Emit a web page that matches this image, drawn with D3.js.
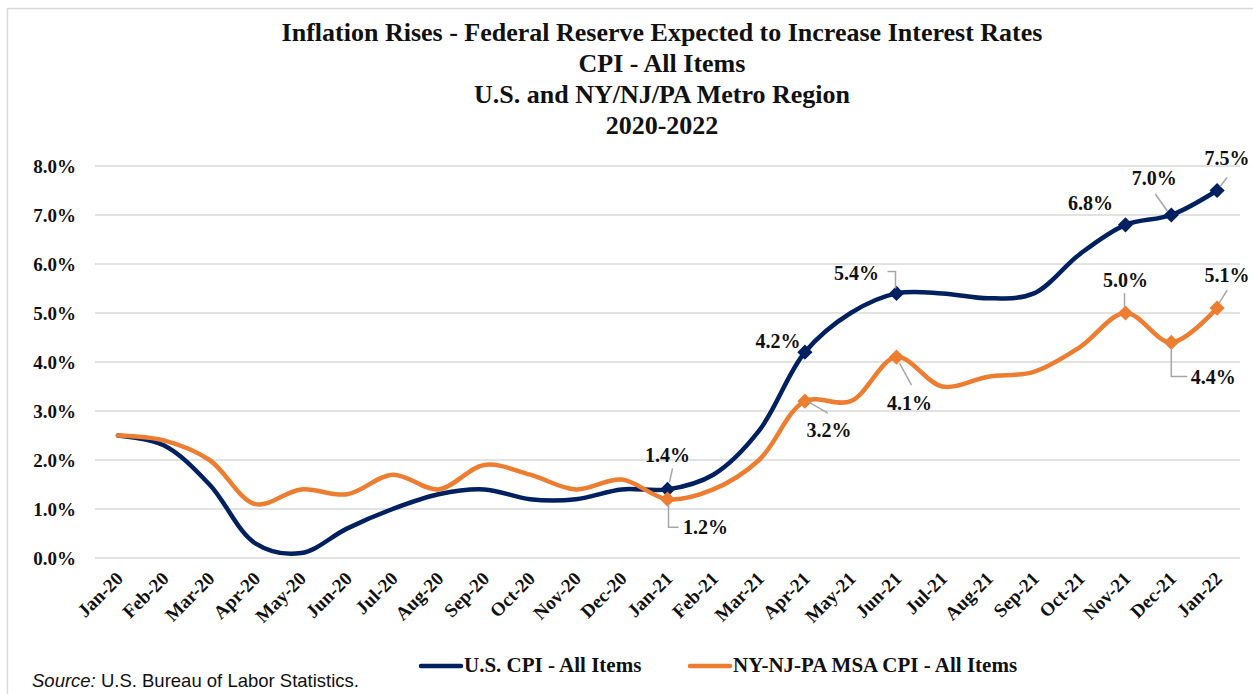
<!DOCTYPE html>
<html>
<head>
<meta charset="utf-8">
<script src="https://cdn.jsdelivr.net/npm/d3@7"></script>
<style>
  html, body { margin: 0; padding: 0; background: #fff; overflow: hidden; }
  svg { display: block; }
  .serif { font-family: "Liberation Serif", "DejaVu Serif", serif; }
</style>
</head>
<body>
<svg></svg>
<script>
const width = 1253, height = 694;
const margin = { top: 166, right: 13, bottom: 136, left: 95 };
const innerWidth = width - margin.left - margin.right;
const innerHeight = height - margin.top - margin.bottom;

// data
const months = ["Jan-20", "Feb-20", "Mar-20", "Apr-20", "May-20", "Jun-20", "Jul-20", "Aug-20",
  "Sep-20", "Oct-20", "Nov-20", "Dec-20", "Jan-21", "Feb-21", "Mar-21", "Apr-21", "May-21",
  "Jun-21", "Jul-21", "Aug-21", "Sep-21", "Oct-21", "Nov-21", "Dec-21", "Jan-22"];
const usCpi = [2.5, 2.3, 1.5, 0.3, 0.1, 0.6, 1.0, 1.3, 1.4, 1.2, 1.2, 1.4, 1.4, 1.7, 2.6, 4.2,
  5.0, 5.4, 5.4, 5.3, 5.4, 6.2, 6.8, 7.0, 7.5];
const nyCpi = [2.5, 2.4, 2.0, 1.1, 1.4, 1.3, 1.7, 1.4, 1.9, 1.7, 1.4, 1.6, 1.2, 1.4, 2.0, 3.2,
  3.2, 4.1, 3.5, 3.7, 3.8, 4.3, 5.0, 4.4, 5.1];
const yTicks = [0, 1, 2, 3, 4, 5, 6, 7, 8];
const markedMonths = ["Jan-21", "Apr-21", "Jun-21", "Nov-21", "Dec-21", "Jan-22"];
const titleLines = [
  "Inflation Rises - Federal Reserve Expected to Increase Interest Rates",
  "CPI - All Items",
  "U.S. and NY/NJ/PA Metro Region",
  "2020-2022"
];
const seriesNames = ["U.S. CPI - All Items", "NY-NJ-PA MSA CPI - All Items"];

const colors = ["#002060", "#ED7D31"];

// label placement (offset from the point), leader line points relative to the point
const labelLayout = [
  [ { dx: 0, dy: -34, lead: [[5, -21], [2, -7]] },
    { dx: -27, dy: -11 },
    { dx: -40, dy: -20, lead: [[-9, -22], [-1, -22], [-1, -5]] },
    { dx: -35, dy: -22 },
    { dx: -17, dy: -37, lead: [[-16, -21], [-4, -4]] },
    { dx: 10, dy: -33, lead: [[10, -13], [3, -4]] } ],
  [ { dx: 38, dy: 28, lead: [[1, 5], [1, 28], [11, 28]] },
    { dx: 24, dy: 29, lead: [[4, 1], [23, 12]] },
    { dx: 13, dy: 46, lead: [[3, 6], [15, 28]] },
    { dx: 0, dy: -33, lead: [[-1, -20], [-1, -5]] },
    { dx: 42, dy: 35, lead: [[0, 5], [0, 34], [16, 34]] },
    { dx: 10, dy: -33, lead: [[10, -18], [2, -5]] } ]
];

const svg = d3.select("svg")
  .attr("width", width)
  .attr("height", height);

// outer chart border
svg.append("path")
  .attr("d", `M7.5,${height}V8.5H${width}`)
  .attr("fill", "none")
  .attr("stroke", "#d9d9d9")
  .attr("stroke-width", 1.5);

// title
svg.append("g").selectAll("text")
  .data(titleLines)
  .enter().append("text")
  .attr("class", "serif")
  .attr("x", 662)
  .attr("y", (d, i) => 41 + i * 31)
  .attr("text-anchor", "middle")
  .attr("font-size", 26)
  .attr("font-weight", "bold")
  .attr("fill", "#111")
  .text(d => d);

const g = svg.append("g")
  .attr("transform", `translate(${margin.left},${margin.top})`);

const xScale = d3.scalePoint().domain(months).range([0, innerWidth]).padding(0.5);
const yScale = d3.scaleLinear().domain([0, 8]).range([innerHeight, 0]);

// grid
g.append("g").selectAll("line")
  .data(yTicks)
  .enter().append("line")
  .attr("x1", 0)
  .attr("x2", innerWidth)
  .attr("y1", d => yScale(d))
  .attr("y2", d => yScale(d))
  .attr("stroke", "#d9d9d9")
  .attr("stroke-width", 1.5);

// y axis
const yAxis = d3.axisLeft(yScale).tickValues(yTicks).tickSize(0).tickPadding(19)
  .tickFormat(d => d.toFixed(1) + "%");
g.append("g")
  .call(yAxis)
  .call(s => s.select(".domain").remove())
  .call(s => s.selectAll("text")
    .attr("font-family", "Liberation Serif, serif")
    .attr("font-size", 19)
    .attr("font-weight", "bold")
    .attr("fill", "#111"));

// x axis
const xAxis = d3.axisBottom(xScale).tickSize(0);
g.append("g")
  .attr("transform", `translate(0,${innerHeight})`)
  .call(xAxis)
  .call(s => s.select(".domain").remove())
  .call(s => s.selectAll("text")
    .attr("font-family", "Liberation Serif, serif")
    .attr("font-size", 19)
    .attr("font-weight", "bold")
    .attr("fill", "#111")
    .attr("text-anchor", "end")
    .attr("x", 0).attr("y", 0).attr("dy", "0.35em")
    .attr("transform", "translate(1,17) rotate(-45)"));

// lines
const line = d3.line()
  .x((d, i) => xScale(months[i]))
  .y(d => yScale(d))
  .curve(d3.curveCatmullRom.alpha(0.5));

[usCpi, nyCpi].forEach((series, si) => {
  g.append("path")
    .datum(series)
    .attr("fill", "none")
    .attr("stroke", colors[si])
    .attr("stroke-width", 4.5)
    .attr("stroke-linejoin", "round")
    .attr("stroke-linecap", "round")
    .attr("d", line);
});

// markers, leader lines, labels
const diamond = d3.symbol(d3.symbolSquare, 115);
[usCpi, nyCpi].forEach((series, si) => {
  markedMonths.forEach((m, k) => {
    const i = months.indexOf(m);
    const px = xScale(m), py = yScale(series[i]);
    const lay = labelLayout[si][k];

    g.append("path")
      .attr("d", diamond())
      .attr("transform", `translate(${px},${py}) rotate(45)`)
      .attr("fill", colors[si]);

    if (lay.lead) {
      g.append("path")
        .attr("d", d3.line()(lay.lead.map(p => [px + p[0], py + p[1]])))
        .attr("fill", "none")
        .attr("stroke", "#a6a6a6")
        .attr("stroke-width", 1.5);
    }

    g.append("text")
      .attr("class", "serif")
      .attr("x", px + lay.dx)
      .attr("y", py + lay.dy)
      .attr("dy", "0.35em")
      .attr("text-anchor", "middle")
      .attr("font-size", 20)
      .attr("font-weight", "bold")
      .attr("fill", "#111")
      .text(series[i].toFixed(1) + "%");
  });
});

// legend
const legendX = [421, 690];
const legend = svg.append("g");
seriesNames.forEach((name, i) => {
  legend.append("line")
    .attr("x1", legendX[i]).attr("x2", legendX[i] + 40)
    .attr("y1", 666).attr("y2", 666)
    .attr("stroke", colors[i])
    .attr("stroke-width", 4.5)
    .attr("stroke-linecap", "round");
  legend.append("text")
    .attr("class", "serif")
    .attr("x", legendX[i] + 43)
    .attr("y", 672)
    .attr("font-size", 21)
    .attr("font-weight", "bold")
    .attr("fill", "#111")
    .text(name);
});

// source
const src = svg.append("text")
  .attr("x", 32)
  .attr("y", 687)
  .attr("font-family", "Liberation Sans, Arial, sans-serif")
  .attr("font-size", 18.5)
  .attr("fill", "#111");
src.append("tspan").attr("font-style", "italic").text("Source:");
src.append("tspan").text(" U.S. Bureau of Labor Statistics.");
</script>
</body>
</html>
